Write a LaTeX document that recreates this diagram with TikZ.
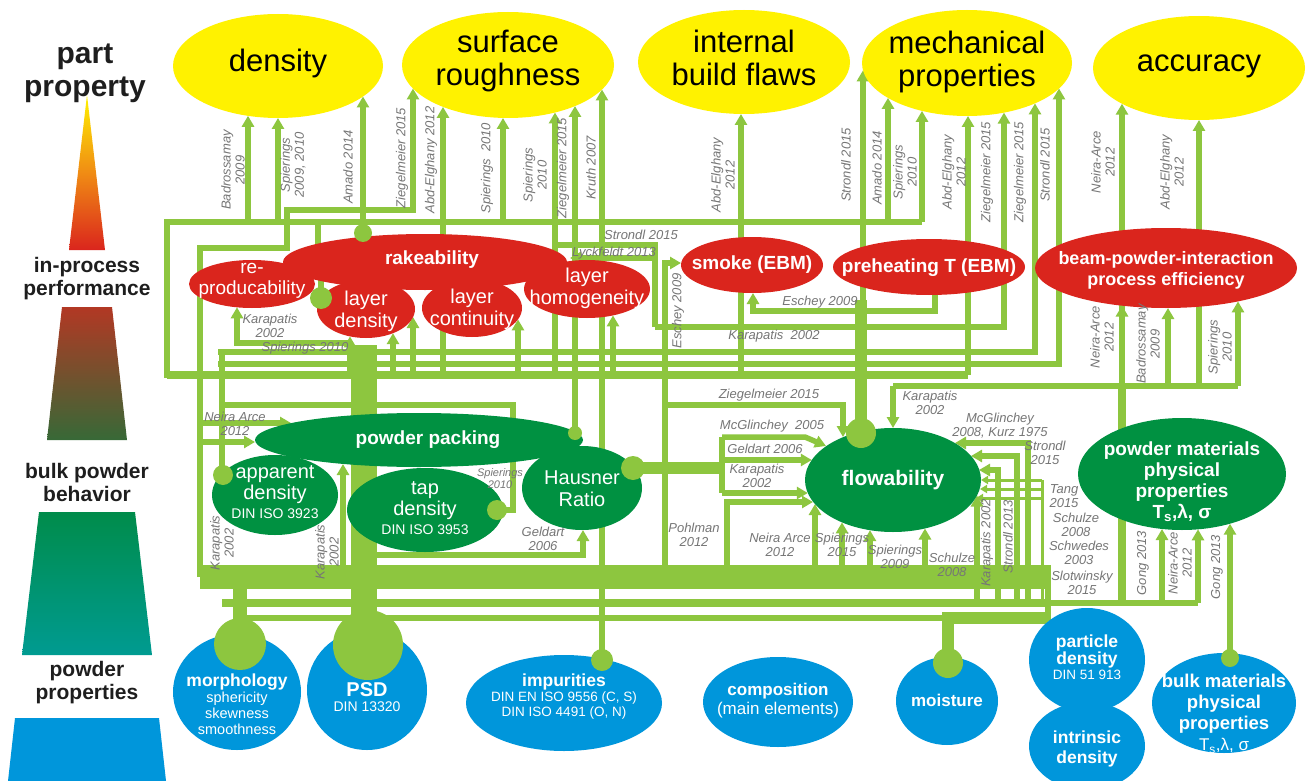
\documentclass[tikz,border=0pt]{standalone}
\usepackage{fontspec}
\setmainfont{Liberation Sans}
\usetikzlibrary{shapes.geometric,arrows.meta}
\definecolor{yel}{RGB}{255,242,0}
\definecolor{rd}{RGB}{218,37,29}
\definecolor{dg}{RGB}{0,145,65}
\definecolor{bl}{RGB}{0,150,219}
\definecolor{lg}{RGB}{141,198,63}
\definecolor{lgray}{RGB}{118,118,118}
\definecolor{orng}{RGB}{240,140,20}
\definecolor{tra}{RGB}{178,56,36}
\definecolor{trb}{RGB}{55,105,55}
\definecolor{tsa}{RGB}{0,140,75}
\definecolor{tsb}{RGB}{0,155,145}
\definecolor{ltxt}{RGB}{30,30,30}
\tikzset{
 elnode/.style={ellipse, inner sep=0pt},
 ynode/.style={elnode, fill=yel},
 rnode/.style={elnode, fill=rd},
 gnode/.style={elnode, fill=dg},
 bnode/.style={elnode, fill=bl},
 ytxt/.style={align=center, inner sep=0pt, text=black, font=\fontsize{31}{33}\selectfont},
 wtxt/.style={align=center, inner sep=0pt, text=white, font=\fontsize{19}{21}\selectfont},
 wbtxt/.style={align=center, inner sep=0pt, text=white, font=\fontsize{19}{21}\selectfont\bfseries},
 gl/.style={draw=lg, line width=5.5pt},
 gm/.style={draw=lg, line width=8pt},
 gt/.style={draw=lg, line width=12pt},
 gs/.style={draw=lg, line width=3pt},
 arr/.style={-{Triangle[length=11pt,width=12pt]}},
 arrs/.style={-{Triangle[length=7pt,width=8pt]}},
 lab/.style={font=\fontsize{13}{14}\selectfont\itshape, text=lgray, align=center, inner sep=0pt},
 sidetxt/.style={font=\fontsize{21}{23}\selectfont\bfseries, text=ltxt, align=center, inner sep=0pt},
}
\newcommand\vlab[3]{\node[lab,rotate=90] at (#1,#2) {#3};}
\newcommand\hlab[3]{\node[lab] at (#1,#2) {#3};}
\begin{document}
\begin{tikzpicture}[x=1pt,y=-1pt]
\useasboundingbox (0,0) rectangle (1309,781);
\fill[white] (0,0) rectangle (1309,781);
% ---------- left scale
\shade[top color=yel, bottom color=rd, middle color=orng] (87,95)--(105,250)--(69,250)--cycle;
\shade[top color=tra, bottom color=trb] (62,307)--(112,307)--(127,440)--(47,440)--cycle;
\shade[top color=tsa, bottom color=tsb] (39,512)--(135,512)--(152,655)--(22,655)--cycle;
\fill[bl] (15,718)--(159,718)--(166,781)--(8,781)--cycle;
\node[sidetxt, font=\fontsize{30}{33}\selectfont\bfseries] (l1) at (85,73) {part\\property};
\node[sidetxt] (l2) at (87,279) {in-process\\performance};
\node[sidetxt] (l3) at (87,482) {bulk powder\\behavior};
\node[sidetxt] (l4) at (87,683) {powder\\properties};
% ---------- connectors
\draw[gl] (167,378)--(167,222)--(922,222);
\draw[gl,arr] (248,222)--(248,115.8);
\draw[gl,arr] (278,222)--(278,118);
\draw[gl,arr] (503,222)--(503,118);
\draw[gl,arr] (888,222)--(888,97.9);
\draw[gl,arr] (922,222)--(922,110.9);
\draw[gl] (318,222)--(318,262);
\draw[gl,arr] (200,577)--(200,248)--(287,248)--(287,210)--(413,210)--(413,88.5);
\draw[gl,arr] (363,233)--(363,96.5);
\draw[gl,arr] (443,378)--(443,106.9);
\draw[gl,arr] (555,378)--(555,112.5);
\draw[gl,arr] (575,433)--(575,106);
\draw[gl,arr] (602,660)--(602,89.5);
\draw[gl,arr] (741,378)--(741,114);
\draw[gt] (861,300)--(861,433);
\draw[gl,arr] (863,433)--(863,70.3);
\draw[gl,arr] (655,327)--(1004,327)--(1004,112.6);
\draw[gl,arr] (218,352)--(1035,352)--(1035,103.4);
\draw[gl,arr] (218,364)--(1059,364)--(1059,88.5);
\draw[gm] (167,375)--(968,375);
\draw[gl,arr] (968,375)--(968,116);
\draw[gl] (655,327)--(655,245)--(555,245);
\draw[gl,arr] (655,258)--(570,258);
\draw[gl,arr] (665,375)--(665,263)--(681,263);
\draw[gl,arr] (935,295)--(935,311)--(753,311)--(753,293);
\draw[gl] (893,386)--(1238,386);
\draw[gl,arr] (893,386)--(893,428);
\draw[gm] (1122,603)--(1122,386);
\draw[gl,arr] (1122,386)--(1122,103.7);
\draw[gl,arr] (1122,340)--(1122,305.5);
\draw[gl,arr] (1168,386)--(1168,308);
\draw[gl,arr] (1238,386)--(1238,301.4);
\draw[gl,arr] (1199,386)--(1199,120);
\draw[gl,arr] (350,343)--(237,343)--(237,307.3);
\draw[gl,arr] (350,378)--(350,336.4);
\draw[gl,arr] (393,378)--(393,333.2);
\draw[gl,arr] (413,378)--(413,317);
\draw[gl,arr] (518,378)--(518,319.4);
\draw[gl,arr] (613,378)--(613,315.4);
\draw[gl] (321,272)--(321,298);
% bulk level
\draw[draw=lg, line width=26pt] (364,345)--(364,640);
\draw[gl,arr] (200,423)--(291,423);
\draw[gl,arr] (200,442)--(255,442);
\draw[gl] (222,352)--(222,475);
\draw[gl] (222,405)--(513,405)--(513,510)--(497,510);
\draw[gl,arr] (343,568)--(343,464);
\draw[gl,arr] (377,555)--(583,555)--(583,530);
\draw[gt] (633,468)--(722,468);
\draw[gl] (722,437)--(722,493);
\draw[gl,arr] (722,437)--(805,437)--(826,446);
\draw[gl,arr] (722,460)--(811.8,460);
\draw[gl,arr] (722,493)--(807.8,493);
\draw[gl,arr] (727,577)--(727,502)--(813,502);
\draw[gl] (665,378)--(665,577);
\draw[gl,arr] (665,405)--(843,405)--(843,437);
\draw[gl,arr] (815,577)--(815,504);
\draw[gl,arr] (842,577)--(842,522.4);
\draw[gl,arr] (870,580)--(870,530.2);
\draw[gl,arr] (925,585)--(925,528.5);
\draw[gl,arr] (977,603)--(977,495.5);
\draw[gl,arr] (998,603)--(998,470)--(979,470);
\draw[gl,arr] (1017,603)--(1017,456)--(971,456);
\draw[gl,arr] (1028,603)--(1028,443)--(955,443);
\draw[gs] (1042,480)--(1042,603);
\draw[gs,arrs] (1042,480)--(981,480);
\draw[gs,arrs] (1042,489)--(980,489);
\draw[gs,arrs] (1042,498)--(976,498);
\draw[gl] (1000,603)--(1198,603);
\draw[gl,arr] (1162,603)--(1162,529);
\draw[gl,arr] (1198,603)--(1198,529.3);
\draw[gl,arr] (1230,658)--(1230,523.7);
% bottom band
\draw[draw=lg, line width=24pt] (200,577)--(1048,577);
\draw[gm] (222,603)--(1048,603);
\draw[gl] (240,618)--(1048,618)--(1048,565);
\draw[draw=lg, line width=14pt] (240,577)--(240,644);
\draw[gt] (948,663)--(948,618)--(1048,618);
% ---------- part properties
\node[ynode, minimum width=210pt, minimum height=104pt] (den) at (278,66) {};
\node[ynode, minimum width=212pt, minimum height=106pt] (sur) at (508,65) {};
\node[ynode, minimum width=212pt, minimum height=104pt] (ibf) at (744,62) {};
\node[ynode, minimum width=210pt, minimum height=106pt] (mec) at (967,63) {};
\node[ynode, minimum width=212pt, minimum height=104pt] (acc) at (1199,68) {};
\node[ytxt] at (278,63) {density};
\node[ytxt] at (508,61) {surface\\roughness};
\node[ytxt] at (744,58) {internal\\build flaws};
\node[ytxt] at (967,62) {mechanical\\properties};
\node[ytxt] at (1199,66) {accuracy};
% ---------- in-process
\node[rnode, minimum width=284pt, minimum height=56pt] (rak) at (425,262) {};
\node[rnode, minimum width=126pt, minimum height=48pt] (rep) at (252,284) {};
\node[rnode, minimum width=98pt, minimum height=58pt] (lden) at (366,309) {};
\node[rnode, minimum width=100pt, minimum height=58pt] (lcon) at (472,308) {};
\node[rnode, minimum width=126pt, minimum height=58pt] (lhom) at (587,289) {};
\node[rnode, minimum width=142pt, minimum height=56pt] (smk) at (752,265) {};
\node[rnode, minimum width=192pt, minimum height=56pt] (pre) at (929,267) {};
\node[rnode, minimum width=262pt, minimum height=80pt] (bpi) at (1166,268) {};
\node[wbtxt] at (432,260) {rakeability};
\node[wtxt] at (252,281) {re-\\producability};
\node[wtxt, font=\fontsize{20}{22}\selectfont] at (366,311) {layer\\density};
\node[wtxt, font=\fontsize{20}{22}\selectfont] at (472,309) {layer\\continuity};
\node[wtxt, font=\fontsize{20}{22}\selectfont] at (587,288) {layer\\homogeneity};
\node[wbtxt] at (752,265) {smoke (EBM)};
\node[wbtxt] at (929,268) {preheating T (EBM)};
\node[wbtxt, font=\fontsize{18}{21}\selectfont\bfseries] at (1166,270) {beam-powder-interaction\\process efficiency};
% ---------- bulk powder behavior
\node[gnode, minimum width=328pt, minimum height=54pt] (pp) at (419,440) {};
\node[gnode, minimum width=126pt, minimum height=80pt] (app) at (275,495) {};
\node[gnode, minimum width=156pt, minimum height=84pt] (tap) at (425,510) {};
\node[gnode, minimum width=120pt, minimum height=84pt] (hr) at (582,488) {};
\node[gnode, minimum width=176pt, minimum height=104pt] (flow) at (893,480) {};
\node[gnode, minimum width=208pt, minimum height=112pt] (pm) at (1182,474) {};
\node[wbtxt] at (428,440) {powder packing};
\node[wtxt, font=\fontsize{20}{21}\selectfont] at (275,492) {apparent\\density\\[-2pt]{\fontsize{14}{15}\selectfont DIN ISO 3923}};
\node[wtxt, font=\fontsize{20}{21}\selectfont] at (425,508) {tap\\density\\[-2pt]{\fontsize{14}{15}\selectfont DIN ISO 3953}};
\node[wtxt, font=\fontsize{20}{22}\selectfont] at (582,489) {Hausner\\Ratio};
\node[wbtxt, font=\fontsize{21}{23}\selectfont\bfseries] at (893,480) {flowability};
\node[wbtxt, font=\fontsize{19}{21}\selectfont\bfseries] at (1182,482) {powder materials\\physical\\properties\\T\textsubscript{s},λ, σ};
% ---------- powder properties
\node[bnode, minimum width=128pt, minimum height=116pt] (mor) at (237,692) {};
\node[bnode, minimum width=120pt, minimum height=120pt] (psd) at (367,690) {};
\node[bnode, minimum width=196pt, minimum height=96pt] (imp) at (564,703) {};
\node[bnode, minimum width=150pt, minimum height=90pt] (com) at (778,702) {};
\node[bnode, minimum width=102pt, minimum height=88pt] (moi) at (947,701) {};
\node[bnode, minimum width=116pt, minimum height=104pt] (pd) at (1087,660) {};
\node[bnode, minimum width=116pt, minimum height=88pt] (id) at (1087,746) {};
\node[bnode, minimum width=144pt, minimum height=100pt] (bmp) at (1224,703) {};
\node[wtxt, font=\fontsize{14.5}{16}\selectfont] at (237,704) {{\fontsize{17.5}{19}\selectfont\bfseries morphology}\\sphericity\\skewness\\smoothness};
\node[wtxt, font=\fontsize{14}{15}\selectfont] at (367,697) {{\fontsize{20}{21}\selectfont\bfseries PSD}\\DIN 13320};
\node[wtxt, font=\fontsize{13.5}{15}\selectfont] at (564,697) {{\fontsize{17.5}{19}\selectfont\bfseries impurities}\\DIN EN ISO 9556 (C, S)\\DIN ISO 4491 (O, N)};
\node[wtxt, font=\fontsize{17}{19}\selectfont] at (778,701) {{\bfseries composition}\\(main elements)};
\node[wbtxt, font=\fontsize{17}{19}\selectfont\bfseries] at (947,700) {moisture};
\node[wtxt, font=\fontsize{13.5}{15}\selectfont] at (1087,657) {{\fontsize{17.5}{19}\selectfont\bfseries particle}\\{\fontsize{17.5}{19}\selectfont\bfseries density}\\DIN 51 913};
\node[wbtxt, font=\fontsize{17.5}{20}\selectfont\bfseries] at (1087,749) {intrinsic\\density};
\node[wbtxt, font=\fontsize{18.5}{21}\selectfont\bfseries] at (1224,714) {bulk materials\\physical\\properties\\{\mdseries\fontsize{17}{19}\selectfont T\textsubscript{s},λ, σ}};
% ---------- junction dots
\fill[lg] (363,233) circle (9pt);
\fill[lg] (321,298) circle (11pt);
\fill[lg] (223,475) circle (10pt);
\fill[lg] (497,510) circle (10pt);
\fill[lg] (575,433) circle (7pt);
\fill[lg] (633,468) circle (12pt);
\fill[lg] (861,433) circle (15pt);
\fill[lg] (240,644) circle (26pt);
\fill[lg] (368,645) circle (35pt);
\fill[lg] (602,660) circle (11pt);
\fill[lg] (948,663) circle (15pt);
\fill[lg] (1230,658) circle (9pt);
% ---------- reference labels
\vlab{233}{170}{Badrossamay\\2009}
\vlab{293}{165}{Spierings\\2009, 2010}
\vlab{348}{167}{Amado 2014}
\vlab{402}{158}{Ziegelmeier 2015}
\vlab{431}{160}{Abd-Elghany 2012}
\vlab{487}{168}{Spierings\ \ 2010}
\vlab{535}{175}{Spierings\\2010}
\vlab{563}{168}{Ziegelmeier 2015}
\vlab{591}{168}{Kruth 2007}
\vlab{723}{175}{Abd-Elghany\\2012}
\vlab{846}{165}{Strondl 2015}
\vlab{877}{168}{Amado 2014}
\vlab{905}{172}{Spierings\\2010}
\vlab{954}{172}{Abd-Elghany\\2012}
\vlab{987}{172}{Ziegelmeier 2015}
\vlab{1020}{172}{Ziegelmeier 2015}
\vlab{1045}{165}{Strondl 2015}
\vlab{1103}{162}{Neira-Arce\\2012}
\vlab{1172}{172}{Abd-Elghany\\2012}
\vlab{678}{311}{Eschey 2009}
\vlab{1102}{337}{Neira-Arce\\2012}
\vlab{1148}{344}{Badrossamay\\2009}
\vlab{1220}{347}{Spierings\\2010}
\vlab{222}{543}{Karapatis\\2002}
\vlab{327}{552}{Karapatis\\2002}
\vlab{987}{543}{Karapatis 2002}
\vlab{1008}{537}{Strondl 2013}
\vlab{1143}{563}{Gong 2013}
\vlab{1180}{563}{Neira-Arce\\2012}
\vlab{1217}{567}{Gong 2013}
\hlab{641}{235}{Strondl 2015}
\hlab{614}{253}{Lyckfeldt 2013}
\hlab{820}{302}{Eschey 2009}
\hlab{774}{336}{Karapatis\ \ 2002}
\hlab{769}{395}{Ziegelmeier 2015}
\hlab{270}{326}{Karapatis\\2002}
\hlab{305}{348}{Spierings 2010}
\hlab{235}{424}{Neira Arce\\2012}
\node[lab, font=\fontsize{11}{12}\selectfont\itshape] at (500,479) {Spierings\\2010};
\hlab{543}{539}{Geldart\\2006}
\hlab{930}{403}{Karapatis\\2002}
\hlab{1000}{426}{McGlinchey\\2008, Kurz 1975}
\hlab{1045}{453}{Strondl\\2015}
\hlab{1064}{496}{Tang\\2015}
\hlab{1076}{525}{Schulze\\2008}
\hlab{1079}{553}{Schwedes\\2003}
\hlab{1082}{583}{Slotwinsky\\2015}
\hlab{772}{426}{McGlinchey\ \ 2005}
\hlab{765}{449}{Geldart 2006}
\hlab{757}{476}{Karapatis\\2002}
\hlab{694}{535}{Pohlman\\2012}
\hlab{780}{545}{Neira Arce\\2012}
\hlab{842}{545}{Spierings\\2015}
\hlab{895}{557}{Spierings\\2009}
\hlab{952}{565}{Schulze\\2008}
\end{tikzpicture}
\end{document}
